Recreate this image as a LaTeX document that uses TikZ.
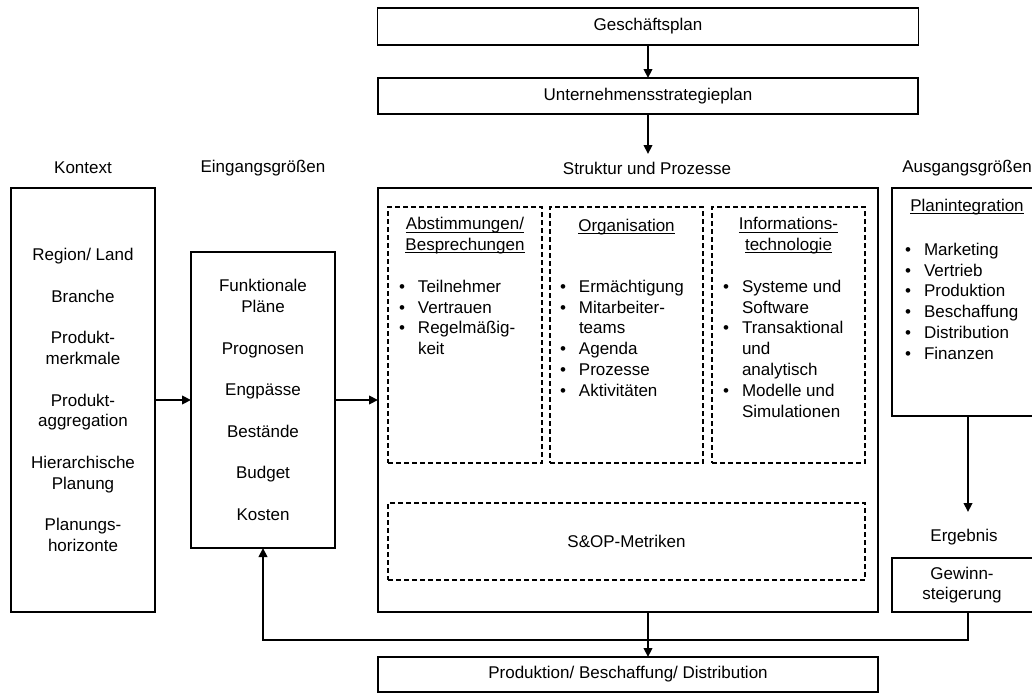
\documentclass[tikz,border=0pt]{standalone}
\usepackage{fontspec}
\setmainfont{Liberation Sans}
\usetikzlibrary{arrows.meta,calc}
% bullet item and its continuation line
\newcommand\bitem[1]{\makebox[19pt][l]{•}#1}
\newcommand\bcont[1]{\hspace*{19pt}#1}
% underline at a fixed depth below the baseline
\newcommand\uline[1]{\setbox0\hbox{#1}\rlap{\rule[-2.6pt]{\wd0}{1pt}}\box0}
\begin{document}
\begin{tikzpicture}[x=1pt,y=-1pt,
  every node/.style={font=\fontsize{17}{20.8}\selectfont, inner sep=0pt, outer sep=0pt},
  frame/.style={draw, line width=1.4pt, rectangle},
  dbox/.style={draw, line width=1.2pt, dash pattern=on 5pt off 3pt, rectangle},
  conn/.style={line width=2.5pt},
  arr/.style={conn, -{Triangle[length=9pt,width=8.5pt]}},
  list/.style={align=left, anchor=north west},
  head/.style={align=center}
]
\useasboundingbox (0,0) rectangle (1032,693);

% top planning chain
\node[frame, minimum width=541pt, minimum height=37pt] (gesch) at (648,26.5) {Geschäftsplan};
\node[frame, minimum width=540pt, minimum height=36pt] (unter) at (648,96) {Unternehmensstrategieplan};

% column headings
\node (hkontext) at (83,168) {Kontext};
\node (heingang) at (263,168) {Eingangsgrößen};
\node (hstruktur) at (647,168) {Struktur und Prozesse};
\node (hausgang) at (967,168) {Ausgangsgrößen};

% context
\node[frame, minimum width=144pt, minimum height=424pt, align=center] (kontext) at (83,400)
  {Region/ Land\\[20.8pt]Branche\\[20.8pt]Produkt-\\merkmale\\[20.8pt]Produkt-\\aggregation\\[20.8pt]Hierarchische\\Planung\\[20.8pt]Planungs-\\horizonte};

% inputs
\node[frame, minimum width=144pt, minimum height=296pt, align=center] (eingang) at (263,400)
  {Funktionale\\Pläne\\[20.8pt]Prognosen\\[20.8pt]Engpässe\\[20.8pt]Bestände\\[20.8pt]Budget\\[20.8pt]Kosten};

% structure and processes
\node[frame, minimum width=500pt, minimum height=424pt] (big) at (628,400) {};
\node[dbox, minimum width=154pt, minimum height=256pt] (abst) at (465,335) {};
\node[dbox, minimum width=153pt, minimum height=256pt] (orga) at (626.5,335) {};
\node[dbox, minimum width=153pt, minimum height=256pt] (info) at (788.5,335) {};
\node[dbox, minimum width=477pt, minimum height=77pt] (metrik) at (626.5,541.5) {S\&OP-Metriken};

\node[head] (habst) at (465,236) {\uline{Abstimmungen/}\\\uline{Besprechungen}};
\node[head] (horga) at (626.5,227) {\uline{Organisation}};
\node[head] (hinfo) at (788.5,236) {\uline{Informations-}\\\uline{technologie}};

\node[list] (labst) at (399,280) {\bitem{Teilnehmer}\\\bitem{Vertrauen}\\\bitem{Regelmäßig-}\\\bcont{keit}};
\node[list] (lorga) at (560,280) {\bitem{Ermächtigung}\\\bitem{Mitarbeiter-}\\\bcont{teams}\\\bitem{Agenda}\\\bitem{Prozesse}\\\bitem{Aktivitäten}};
\node[list] (linfo) at (723,280) {\bitem{Systeme und}\\\bcont{Software}\\\bitem{Transaktional}\\\bcont{und}\\\bcont{analytisch}\\\bitem{Modelle und}\\\bcont{Simulationen}};

% outputs (boxes run past the right page edge)
\node[frame, minimum width=152pt, minimum height=228pt] (plan) at (968,302) {};
\node[head] (hplan) at (967,207) {\uline{Planintegration}};
\node[list] (lplan) at (905,243) {\bitem{Marketing}\\\bitem{Vertrieb}\\\bitem{Produktion}\\\bitem{Beschaffung}\\\bitem{Distribution}\\\bitem{Finanzen}};

\node (hergebnis) at (964,537) {Ergebnis};
\node[frame, minimum width=152pt, minimum height=54pt] (gewinn) at (968,585) {};
\node[head] (tgewinn) at (962,585) {Gewinn-\\steigerung};

% execution
\node[frame, minimum width=500pt, minimum height=35pt] (prod) at (628,674.5) {Produktion/ Beschaffung/ Distribution};

% connectors
\coordinate (sptip) at (648,154);
\coordinate (ergtip) at (968,512);
\coordinate (join) at (648,640);
\draw[arr] (gesch.south) -- (unter.north);
\draw[arr] (unter.south) -- (sptip);
\draw[arr] (kontext.east) -- (eingang.west);
\draw[arr] (eingang.east) -- (big.west);
\draw[arr] (plan.south) -- (ergtip);
\draw[arr] (big.south -| join) -- (prod.north -| join);
\draw[arr] (gewinn.south) |- (join) -| (eingang.south);
\end{tikzpicture}
\end{document}
